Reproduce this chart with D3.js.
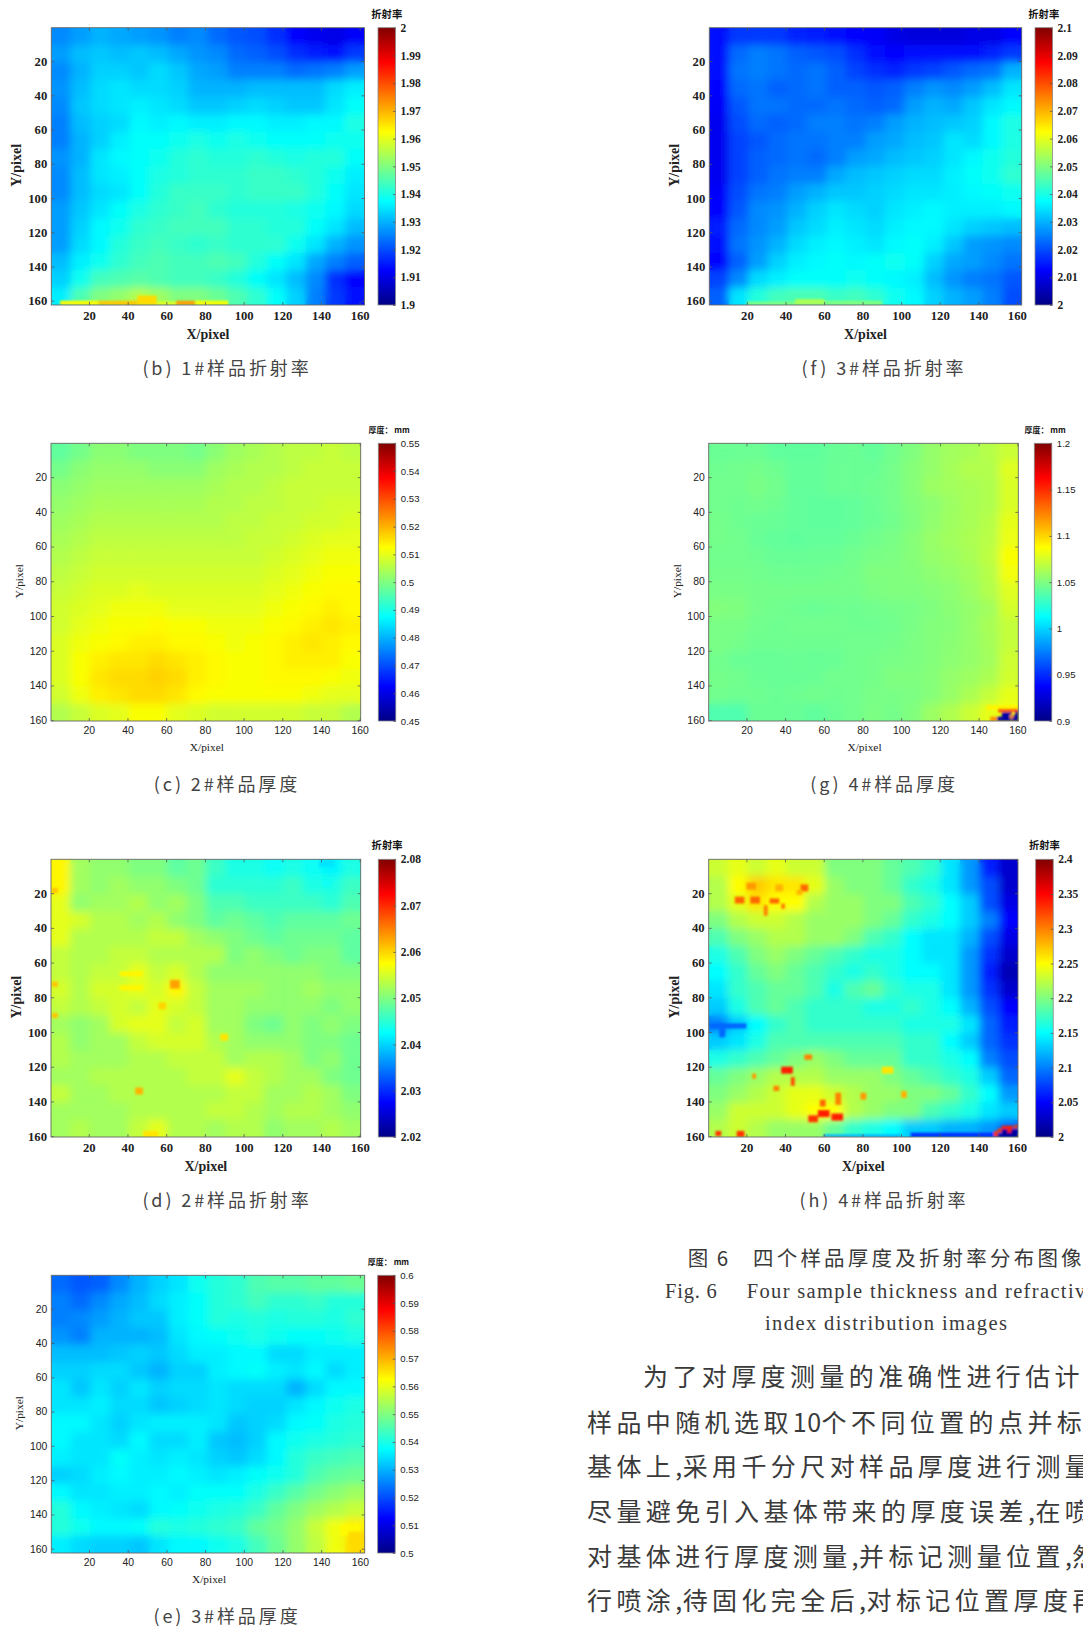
<!DOCTYPE html>
<html>
<head>
    <meta charset="utf-8" />
    <title>Fig. 6 sample thickness and refractive index</title>
    <style>
        html, body { margin: 0; padding: 0; background: #fff; overflow: hidden; }
        svg { display: block; }
    </style>
</head>
<body>
    <div class="canvas"></div>
    <script src="https://d3js.org/d3.v7.min.js"></script>
    <script>
        // values, 16 x 16 blocks of 10 pixels, row 0 at the top
        var xyTicks = [20, 40, 60, 80, 100, 120, 140, 160];

        var bTicks = [1.9, 1.91, 1.92, 1.93, 1.94, 1.95, 1.96, 1.97, 1.98, 1.99, 2];
        var fTicks = [2, 2.01, 2.02, 2.03, 2.04, 2.05, 2.06, 2.07, 2.08, 2.09, 2.1];
        var cTicks = [0.45, 0.46, 0.47, 0.48, 0.49, 0.5, 0.51, 0.52, 0.53, 0.54, 0.55];
        var gTicks = [0.9, 0.95, 1, 1.05, 1.1, 1.15, 1.2];
        var dTicks = [2.02, 2.03, 2.04, 2.05, 2.06, 2.07, 2.08];
        var hTicks = [2, 2.05, 2.1, 2.15, 2.2, 2.25, 2.3, 2.35, 2.4];
        var eTicks = [0.5, 0.51, 0.52, 0.53, 0.54, 0.55, 0.56, 0.57, 0.58, 0.59, 0.6];

        var bValues = [
            [1.926,1.928,1.930,1.929,1.928,1.927,1.925,1.926,1.923,1.921,1.920,1.917,1.913,1.911,1.910,1.912],
            [1.928,1.931,1.932,1.931,1.932,1.931,1.929,1.927,1.926,1.923,1.922,1.920,1.917,1.915,1.914,1.918],
            [1.926,1.930,1.933,1.933,1.932,1.934,1.932,1.929,1.928,1.925,1.925,1.925,1.923,1.924,1.925,1.928],
            [1.927,1.931,1.934,1.935,1.934,1.934,1.933,1.930,1.930,1.930,1.931,1.931,1.931,1.931,1.934,1.936],
            [1.926,1.932,1.934,1.935,1.936,1.935,1.934,1.932,1.932,1.933,1.934,1.933,1.932,1.932,1.935,1.938],
            [1.925,1.931,1.933,1.934,1.937,1.936,1.937,1.936,1.936,1.937,1.937,1.936,1.936,1.937,1.937,1.940],
            [1.925,1.930,1.933,1.936,1.938,1.938,1.939,1.940,1.939,1.940,1.939,1.938,1.938,1.938,1.939,1.939],
            [1.927,1.930,1.935,1.937,1.938,1.939,1.941,1.942,1.941,1.941,1.942,1.941,1.940,1.941,1.941,1.938],
            [1.926,1.931,1.935,1.936,1.938,1.940,1.941,1.942,1.942,1.942,1.943,1.943,1.942,1.941,1.939,1.936],
            [1.926,1.931,1.934,1.935,1.938,1.941,1.943,1.943,1.943,1.942,1.943,1.943,1.943,1.941,1.938,1.935],
            [1.928,1.932,1.935,1.938,1.940,1.942,1.943,1.944,1.942,1.941,1.941,1.941,1.940,1.939,1.937,1.934],
            [1.928,1.933,1.937,1.939,1.942,1.943,1.944,1.944,1.944,1.942,1.942,1.941,1.941,1.938,1.935,1.931],
            [1.928,1.934,1.937,1.941,1.943,1.944,1.943,1.942,1.943,1.942,1.942,1.942,1.939,1.935,1.930,1.927],
            [1.931,1.936,1.939,1.942,1.944,1.945,1.944,1.944,1.945,1.944,1.941,1.938,1.935,1.929,1.925,1.922],
            [1.933,1.939,1.944,1.945,1.946,1.945,1.944,1.944,1.943,1.941,1.938,1.935,1.931,1.926,1.917,1.913],
            [1.936,1.945,1.950,1.952,1.955,1.953,1.950,1.950,1.948,1.945,1.942,1.938,1.933,1.925,1.918,1.914]
        ];
        var fValues = [
            [2.014,2.018,2.018,2.018,2.016,2.015,2.014,2.013,2.012,2.010,2.009,2.009,2.009,2.010,2.010,2.013],
            [2.014,2.023,2.025,2.024,2.022,2.021,2.020,2.017,2.014,2.013,2.014,2.014,2.014,2.014,2.016,2.018],
            [2.014,2.024,2.025,2.024,2.023,2.024,2.022,2.019,2.017,2.016,2.018,2.019,2.021,2.023,2.024,2.030],
            [2.013,2.023,2.024,2.022,2.023,2.024,2.022,2.022,2.021,2.022,2.025,2.027,2.026,2.028,2.031,2.035],
            [2.012,2.021,2.024,2.024,2.023,2.023,2.024,2.023,2.022,2.023,2.028,2.030,2.029,2.032,2.035,2.037],
            [2.011,2.020,2.023,2.022,2.023,2.025,2.025,2.024,2.025,2.028,2.030,2.031,2.032,2.033,2.037,2.040],
            [2.011,2.019,2.021,2.023,2.024,2.024,2.025,2.025,2.028,2.029,2.031,2.032,2.035,2.034,2.037,2.040],
            [2.011,2.019,2.022,2.023,2.024,2.023,2.025,2.028,2.029,2.031,2.032,2.033,2.035,2.037,2.039,2.041],
            [2.011,2.019,2.022,2.024,2.025,2.025,2.029,2.031,2.032,2.033,2.034,2.034,2.036,2.038,2.039,2.042],
            [2.012,2.020,2.024,2.025,2.028,2.030,2.032,2.032,2.033,2.034,2.035,2.035,2.036,2.037,2.038,2.039],
            [2.013,2.021,2.026,2.027,2.030,2.033,2.035,2.034,2.033,2.035,2.036,2.037,2.036,2.036,2.036,2.037],
            [2.015,2.023,2.026,2.028,2.032,2.034,2.036,2.035,2.034,2.036,2.037,2.037,2.035,2.033,2.032,2.031],
            [2.014,2.024,2.027,2.030,2.034,2.036,2.037,2.036,2.035,2.037,2.038,2.036,2.032,2.028,2.027,2.026],
            [2.013,2.022,2.028,2.033,2.036,2.037,2.038,2.037,2.038,2.039,2.038,2.033,2.029,2.028,2.026,2.024],
            [2.019,2.026,2.034,2.036,2.038,2.038,2.038,2.039,2.038,2.037,2.036,2.031,2.027,2.025,2.024,2.021],
            [2.022,2.035,2.041,2.044,2.045,2.045,2.043,2.044,2.042,2.039,2.037,2.033,2.030,2.028,2.025,2.020]
        ];
        var cValues = [
            [.497,.499,.501,.501,.500,.500,.500,.499,.501,.503,.504,.505,.506,.506,.507,.506],
            [.499,.501,.502,.502,.502,.501,.501,.501,.503,.504,.505,.505,.506,.507,.507,.507],
            [.501,.502,.503,.503,.503,.503,.503,.503,.504,.505,.505,.506,.507,.507,.507,.507],
            [.502,.503,.504,.504,.504,.504,.504,.504,.505,.505,.506,.506,.507,.507,.508,.508],
            [.503,.504,.505,.505,.505,.505,.505,.505,.505,.506,.506,.507,.507,.508,.508,.509],
            [.504,.505,.506,.506,.506,.506,.506,.506,.506,.506,.507,.507,.508,.509,.510,.510],
            [.505,.506,.507,.507,.507,.507,.507,.507,.507,.507,.507,.508,.509,.510,.511,.511],
            [.506,.507,.508,.508,.508,.508,.508,.508,.508,.508,.508,.509,.510,.511,.512,.512],
            [.507,.508,.509,.509,.510,.509,.509,.509,.509,.509,.509,.510,.511,.512,.513,.513],
            [.508,.509,.510,.511,.511,.511,.510,.510,.510,.510,.510,.511,.512,.513,.514,.513],
            [.508,.510,.511,.512,.512,.513,.512,.512,.511,.511,.511,.512,.513,.514,.515,.514],
            [.509,.511,.512,.513,.514,.514,.513,.513,.512,.511,.512,.513,.514,.515,.514,.513],
            [.509,.512,.514,.515,.515,.516,.515,.514,.513,.512,.512,.513,.514,.514,.514,.512],
            [.509,.512,.515,.516,.516,.517,.516,.514,.513,.512,.512,.513,.513,.513,.512,.511],
            [.508,.511,.514,.515,.516,.516,.515,.513,.512,.512,.512,.512,.512,.511,.510,.510],
            [.505,.507,.509,.510,.512,.512,.510,.509,.508,.508,.508,.508,.508,.507,.507,.505]
        ];
        var gValues = [
            [1.044,1.044,1.044,1.041,1.041,1.041,1.043,1.044,1.042,1.046,1.050,1.056,1.060,1.062,1.066,1.072],
            [1.045,1.046,1.047,1.045,1.042,1.042,1.044,1.044,1.044,1.047,1.052,1.056,1.061,1.065,1.065,1.078],
            [1.046,1.046,1.048,1.046,1.042,1.042,1.044,1.044,1.045,1.047,1.052,1.058,1.060,1.062,1.064,1.076],
            [1.046,1.045,1.046,1.045,1.042,1.041,1.041,1.042,1.044,1.047,1.051,1.054,1.058,1.062,1.064,1.076],
            [1.047,1.045,1.044,1.043,1.042,1.041,1.041,1.042,1.044,1.046,1.050,1.055,1.059,1.062,1.066,1.080],
            [1.047,1.046,1.043,1.042,1.041,1.042,1.042,1.044,1.046,1.048,1.052,1.057,1.060,1.063,1.067,1.082],
            [1.046,1.046,1.045,1.043,1.043,1.044,1.044,1.046,1.048,1.049,1.052,1.056,1.058,1.062,1.068,1.086],
            [1.047,1.047,1.046,1.045,1.045,1.045,1.046,1.047,1.050,1.050,1.051,1.054,1.056,1.060,1.066,1.084],
            [1.048,1.048,1.047,1.047,1.047,1.047,1.047,1.047,1.049,1.050,1.050,1.052,1.054,1.058,1.065,1.078],
            [1.051,1.050,1.047,1.046,1.045,1.044,1.045,1.045,1.046,1.047,1.048,1.050,1.053,1.056,1.060,1.075],
            [1.048,1.048,1.046,1.045,1.046,1.046,1.046,1.045,1.045,1.046,1.048,1.051,1.052,1.056,1.062,1.070],
            [1.048,1.047,1.045,1.045,1.045,1.045,1.045,1.046,1.046,1.047,1.049,1.051,1.053,1.056,1.061,1.070],
            [1.046,1.044,1.043,1.043,1.044,1.043,1.044,1.046,1.047,1.048,1.049,1.051,1.054,1.056,1.060,1.073],
            [1.047,1.046,1.044,1.043,1.043,1.044,1.046,1.046,1.047,1.050,1.050,1.052,1.056,1.059,1.063,1.074],
            [1.046,1.045,1.045,1.044,1.045,1.046,1.045,1.046,1.048,1.048,1.049,1.052,1.057,1.063,1.070,1.080],
            [1.036,1.036,1.044,1.044,1.043,1.041,1.044,1.046,1.049,1.047,1.050,1.058,1.064,1.072,1.080,1.084]
        ];
        var dValues = [
            [2.058,2.052,2.051,2.051,2.050,2.050,2.048,2.049,2.046,2.044,2.044,2.043,2.044,2.043,2.042,2.044],
            [2.058,2.052,2.051,2.052,2.051,2.051,2.050,2.049,2.045,2.045,2.045,2.045,2.046,2.044,2.044,2.046],
            [2.056,2.051,2.052,2.052,2.053,2.051,2.052,2.050,2.047,2.047,2.046,2.046,2.046,2.046,2.045,2.047],
            [2.056,2.055,2.053,2.053,2.052,2.053,2.051,2.050,2.048,2.049,2.048,2.047,2.048,2.048,2.048,2.049],
            [2.056,2.053,2.053,2.053,2.053,2.054,2.054,2.052,2.051,2.050,2.049,2.048,2.049,2.049,2.049,2.048],
            [2.054,2.053,2.053,2.054,2.054,2.053,2.053,2.053,2.053,2.050,2.051,2.050,2.049,2.050,2.050,2.048],
            [2.054,2.053,2.054,2.054,2.056,2.054,2.055,2.053,2.051,2.051,2.051,2.051,2.051,2.051,2.050,2.050],
            [2.055,2.053,2.055,2.055,2.056,2.055,2.058,2.054,2.052,2.052,2.052,2.051,2.051,2.052,2.051,2.051],
            [2.054,2.053,2.054,2.055,2.054,2.056,2.055,2.054,2.052,2.052,2.051,2.051,2.051,2.051,2.050,2.051],
            [2.052,2.051,2.052,2.055,2.056,2.056,2.054,2.055,2.052,2.052,2.050,2.049,2.051,2.050,2.051,2.050],
            [2.053,2.051,2.052,2.052,2.054,2.055,2.055,2.055,2.053,2.052,2.051,2.051,2.051,2.050,2.050,2.049],
            [2.053,2.052,2.052,2.052,2.053,2.053,2.054,2.054,2.054,2.052,2.053,2.053,2.052,2.050,2.051,2.049],
            [2.052,2.052,2.053,2.053,2.053,2.053,2.053,2.054,2.054,2.056,2.054,2.053,2.052,2.052,2.050,2.049],
            [2.054,2.052,2.052,2.053,2.053,2.053,2.053,2.053,2.053,2.054,2.054,2.052,2.052,2.053,2.052,2.050],
            [2.052,2.052,2.052,2.052,2.053,2.053,2.053,2.053,2.054,2.054,2.053,2.052,2.053,2.053,2.052,2.051],
            [2.052,2.053,2.052,2.052,2.054,2.056,2.053,2.053,2.052,2.053,2.053,2.051,2.052,2.052,2.053,2.052]
        ];
        var hValues = [
            [2.23,2.24,2.23,2.24,2.23,2.23,2.20,2.20,2.20,2.19,2.18,2.17,2.14,2.11,2.06,2.03],
            [2.22,2.25,2.27,2.26,2.26,2.24,2.21,2.20,2.20,2.19,2.17,2.16,2.14,2.11,2.08,2.03],
            [2.22,2.24,2.26,2.25,2.25,2.22,2.21,2.21,2.20,2.20,2.18,2.17,2.15,2.13,2.08,2.04],
            [2.20,2.22,2.23,2.23,2.22,2.21,2.21,2.21,2.20,2.19,2.17,2.16,2.15,2.13,2.10,2.05],
            [2.18,2.20,2.21,2.22,2.22,2.21,2.21,2.20,2.18,2.17,2.15,2.14,2.14,2.12,2.08,2.04],
            [2.16,2.18,2.20,2.21,2.20,2.19,2.18,2.17,2.16,2.16,2.15,2.14,2.14,2.11,2.07,2.03],
            [2.15,2.17,2.19,2.20,2.19,2.18,2.17,2.16,2.17,2.16,2.15,2.15,2.14,2.11,2.06,2.02],
            [2.14,2.17,2.18,2.19,2.19,2.18,2.16,2.18,2.19,2.17,2.16,2.16,2.14,2.11,2.07,2.03],
            [2.13,2.16,2.18,2.19,2.18,2.17,2.17,2.17,2.16,2.16,2.17,2.16,2.15,2.12,2.08,2.05],
            [2.10,2.13,2.15,2.17,2.18,2.17,2.17,2.17,2.17,2.17,2.16,2.16,2.16,2.14,2.09,2.06],
            [2.13,2.14,2.16,2.18,2.18,2.18,2.18,2.18,2.18,2.18,2.17,2.17,2.15,2.13,2.09,2.07],
            [2.16,2.17,2.18,2.19,2.20,2.21,2.20,2.19,2.19,2.19,2.17,2.17,2.16,2.15,2.10,2.08],
            [2.19,2.20,2.21,2.22,2.22,2.22,2.21,2.21,2.21,2.20,2.19,2.18,2.17,2.16,2.13,2.09],
            [2.20,2.21,2.22,2.23,2.24,2.24,2.23,2.22,2.21,2.21,2.20,2.20,2.19,2.17,2.15,2.11],
            [2.21,2.23,2.23,2.23,2.24,2.25,2.25,2.22,2.21,2.20,2.20,2.18,2.17,2.16,2.14,2.13],
            [2.22,2.23,2.22,2.21,2.21,2.21,2.19,2.17,2.16,2.15,2.13,2.13,2.12,2.12,2.11,2.09]
        ];
        var eValues = [
            [.523,.521,.522,.526,.530,.533,.535,.539,.541,.542,.545,.546,.546,.547,.547,.548],
            [.525,.523,.526,.529,.531,.534,.536,.538,.541,.542,.544,.542,.542,.543,.541,.541],
            [.525,.526,.528,.530,.532,.532,.536,.538,.541,.540,.541,.540,.541,.541,.540,.542],
            [.527,.525,.530,.530,.530,.531,.535,.537,.538,.539,.540,.539,.538,.538,.539,.540],
            [.531,.531,.531,.532,.533,.532,.534,.536,.536,.537,.537,.534,.534,.536,.536,.536],
            [.533,.533,.534,.534,.532,.530,.533,.533,.536,.537,.538,.536,.535,.537,.534,.536],
            [.535,.532,.535,.533,.535,.533,.534,.534,.535,.534,.534,.534,.530,.534,.537,.537],
            [.535,.535,.536,.534,.534,.532,.533,.534,.535,.534,.533,.533,.535,.537,.539,.540],
            [.537,.537,.535,.533,.535,.536,.536,.536,.535,.532,.533,.534,.537,.538,.540,.541],
            [.537,.535,.535,.534,.537,.534,.534,.536,.532,.531,.533,.537,.539,.540,.541,.542],
            [.536,.535,.535,.538,.536,.535,.536,.535,.533,.532,.534,.537,.541,.543,.544,.545],
            [.533,.534,.536,.537,.536,.536,.537,.536,.535,.536,.538,.539,.541,.545,.547,.548],
            [.537,.535,.535,.536,.536,.537,.536,.538,.538,.538,.540,.543,.546,.549,.551,.553],
            [.541,.537,.536,.535,.534,.537,.538,.539,.540,.541,.543,.547,.550,.553,.555,.557],
            [.541,.539,.537,.537,.538,.541,.540,.541,.542,.543,.547,.549,.552,.557,.561,.564],
            [.536,.534,.533,.533,.532,.535,.537,.537,.539,.540,.544,.548,.552,.556,.561,.566]
        ];

        // small features the blocks are too big for: x0, x1, y0, y1 in image pixels, then value
        var bSpots = [[5,25,160,162.5,1.963],[25,45,160,162.5,1.968],[45,55,157,162.5,1.966],[55,65,160.5,162.5,1.96],
            [65,75,160,162.5,1.972],[75,92,160,162.5,1.962]];
        var fSpots = [[20,60,160.5,162.5,2.05],[45,60,159,162.5,2.054],[60,90,160,162.5,2.05]];
        var cSpots = [];
        var gSpots = [[144,160.5,151.5,154,1.09],[150,158,153.5,155.5,1.14],[158,160.5,153.5,155,1.16],
            [152,157,155.5,160.5,0.91],[149.5,152,158,160.5,0.91],[157,160.5,157,160.5,0.91],[159,160.5,155,158,0.91],
            [146,149.5,158,160.5,1.12],[156,158,157,159,1.12]];
        var dSpots = [[62,67,70,75,2.063],[44,48,132,136,2.062],[56,60,83,87,2.06],[88,92,101,105,2.059],[139,147,1,5,2.041],
            [141,145,12,16,2.043],[36,48,65,68,2.058],[36,48,73,76,2.058],[1,4,17,20,2.061],[1,4,71,74,2.061],[1,4,89,92,2.061],
            [48,56,157,160.5,2.059]];
        var hSpots = [[14,19,22,26,2.31],[22,27,22,26,2.31],[32,37,23,26,2.31],[20,25,14,18,2.29],[35,39,15,19,2.28],
            [48,52,15,19,2.31],[46,49,18,21,2.28],[29,31,27,33,2.3],[38,40,26,29,2.3],[38,44,120,124,2.34],[43,45,126,131,2.32],
            [34,37,131,134,2.3],[23,25,124,127,2.29],[50,54,113,116,2.3],[52,57,148,152,2.33],[57,63,145,149,2.34],
            [64,70,147,151,2.34],[66,69,135,142,2.3],[58,61,139,143,2.31],[15,19,157,160.5,2.33],[4,7,157,160,2.33],
            [79,82,135,139,2.29],[100,103,134,138,2.28],[90,96,120,124,2.26],
            [60,100,159,160.5,2.12],[105,149,158,160.5,2.07],
            [152,160.5,156,160.5,2.01],[149,152,158.5,160.5,2.01],[148,150,157,160.5,2.33],[150,152,155.5,158,2.33],
            [152,158,154,156,2.34],[158.5,160.5,153.5,155.5,2.33],[155,157,156,158,2.34],
            [1,20,95,98,2.09],[6,9,98,103,2.09]];
        var eSpots = [[150,160,146,152,.563],[154,162.5,150,158,.566]];

        var captions = ["(b) 1#样品折射率", "(f) 3#样品折射率", "(c) 2#样品厚度", "(g) 4#样品厚度",
                        "(d) 2#样品折射率", "(h) 4#样品折射率", "(e) 3#样品厚度"];
        var bodyLines = ["为了对厚度测量的准确性进行估计", "样品中随机选取10个不同位置的点并标记", "基体上,采用千分尺对样品厚度进行测量",
                         "尽量避免引入基体带来的厚度误差,在喷涂", "对基体进行厚度测量,并标记测量位置,然", "行喷涂,待固化完全后,对标记位置厚度再"];

        var serif = "'Liberation Serif', serif";
        var sans = "'Liberation Sans', sans-serif";
        var cjk = "'Noto Sans CJK SC', sans-serif";

        var jet = d3.scaleLinear()
            .domain([0, 0.125, 0.375, 0.625, 0.875, 1])
            .range(["#000084", "#0000ff", "#00ffff", "#ffff00", "#ff0000", "#800000"])
            .clamp(true);

        var svg = d3.select(".canvas").append("svg").attr("width", 1083).attr("height", 1627);
        var defs = svg.append("defs");

        defs.append("filter").attr("id", "soften")
            .attr("x", "-10%").attr("y", "-10%").attr("width", "120%").attr("height", "120%")
            .append("feGaussianBlur").attr("stdDeviation", 4);
        defs.append("filter").attr("id", "softenSpot")
            .attr("x", "-10%").attr("y", "-10%").attr("width", "120%").attr("height", "120%")
            .append("feGaussianBlur").attr("stdDeviation", 0.9);

        var jetGrad = defs.append("linearGradient").attr("id", "jetGrad")
            .attr("x1", 0).attr("x2", 0).attr("y1", 1).attr("y2", 0);
        jetGrad.selectAll("stop").data(d3.range(0, 1.001, 0.025)).join("stop")
            .attr("offset", function(d) { return d; })
            .attr("stop-color", function(d) { return jet(d); });

        function drawPanel(id, values, spots, ticks, cbTitle, caption, bold, left, right, top, bottom, cbLeft, xMax, capX) {
            var tickFont = bold ? serif : sans;
            var tickSize = bold ? 12.7 : 10.4;
            var cbSize = bold ? 11.5 : 9.6;

            var x = d3.scaleLinear().domain([0.5, xMax]).range([left, right]);
            var y = d3.scaleLinear().domain([0.5, xMax]).range([top, bottom]);
            var col = d3.scaleBand().domain(d3.range(16)).range([left, right]);
            var row = d3.scaleBand().domain(d3.range(16)).range([top, bottom]);
            var val = d3.scaleLinear().domain([ticks[0], ticks[ticks.length - 1]]).range([0, 1]);
            var cbY = d3.scaleLinear().domain(val.domain()).range([bottom, top]);

            var g = svg.append("g").attr("class", "panel-" + id);
            defs.append("clipPath").attr("id", "clip-" + id)
                .append("rect").attr("x", left).attr("y", top).attr("width", right - left).attr("height", bottom - top);

            var image = g.append("g").attr("clip-path", "url(#clip-" + id + ")");

            function addCells(parent) {
                parent.selectAll("g").data(values).join("g")
                    .attr("transform", function(d, i) { return "translate(0," + row(i) + ")"; })
                    .selectAll("rect").data(function(d) { return d; }).join("rect")
                    .attr("x", function(d, i) { return col(i); })
                    .attr("width", col.bandwidth() + 0.5)
                    .attr("height", row.bandwidth() + 0.5)
                    .attr("fill", function(d) { return jet(val(d)); });
            }
            // flat copy underneath so the blur does not fade out at the frame
            addCells(image.append("g"));
            addCells(image.append("g").attr("filter", "url(#soften)"));

            image.append("g").attr("filter", "url(#softenSpot)")
                .selectAll("rect").data(spots).join("rect")
                .attr("x", function(d) { return x(d[0]); })
                .attr("width", function(d) { return x(d[1]) - x(d[0]); })
                .attr("y", function(d) { return y(d[2]); })
                .attr("height", function(d) { return y(d[3]) - y(d[2]); })
                .attr("fill", function(d) { return jet(val(d[4])); });

            // matlab style inward ticks on all four sides
            function styleAxis(a, size, font, col) {
                a.selectAll("text").attr("font-family", font).attr("font-size", size)
                    .attr("font-weight", bold ? "bold" : "normal").attr("fill", col || "#222");
                a.selectAll("line").attr("stroke", "#555").attr("stroke-width", 0.8);
                a.select(".domain").remove();
            }
            var fmt = function(d) { return String(d); };
            styleAxis(g.append("g").attr("transform", "translate(0," + bottom + ")")
                .call(d3.axisBottom(x).tickValues(xyTicks).tickSize(-3).tickPadding(6).tickFormat(fmt)), tickSize, tickFont);
            styleAxis(g.append("g").attr("transform", "translate(" + left + ",0)")
                .call(d3.axisLeft(y).tickValues(xyTicks).tickSize(-3).tickPadding(4).tickFormat(fmt)), tickSize, tickFont);
            styleAxis(g.append("g").attr("transform", "translate(0," + top + ")")
                .call(d3.axisTop(x).tickValues(xyTicks).tickSize(-3).tickFormat("")), tickSize, tickFont);
            styleAxis(g.append("g").attr("transform", "translate(" + right + ",0)")
                .call(d3.axisRight(y).tickValues(xyTicks).tickSize(-3).tickFormat("")), tickSize, tickFont);

            g.append("rect").attr("x", left).attr("y", top)
                .attr("width", right - left).attr("height", bottom - top)
                .attr("fill", "none").attr("stroke", "#666").attr("stroke-width", 0.9);

            g.append("text").attr("x", (left + right) / 2 + (bold ? 0 : 1)).attr("y", bottom + (bold ? 33.5 : 30))
                .attr("text-anchor", "middle").attr("font-family", serif)
                .attr("font-size", bold ? 14 : 11.4).attr("font-weight", bold ? "bold" : "normal")
                .attr("fill", "#222").text("X/pixel");
            g.append("text")
                .attr("transform", "translate(" + (left - (bold ? 30 : 28)) + "," + (top + (bottom - top) / 2 - 1) + ") rotate(-90)")
                .attr("text-anchor", "middle").attr("font-family", serif)
                .attr("font-size", bold ? 14 : 11.4).attr("font-weight", bold ? "bold" : "normal")
                .attr("fill", "#222").text("Y/pixel");

            // colour bar
            var cbWidth = 17.5;
            g.append("rect").attr("x", cbLeft).attr("y", top)
                .attr("width", cbWidth).attr("height", bottom - top)
                .attr("fill", "url(#jetGrad)").attr("stroke", "#888").attr("stroke-width", 0.8);
            styleAxis(g.append("g").attr("transform", "translate(" + (cbLeft + cbWidth) + ",0)")
                .call(d3.axisRight(cbY).tickValues(ticks).tickSize(-2.5).tickPadding(5).tickFormat(fmt)), cbSize, tickFont);

            var isThick = cbTitle.indexOf("mm") >= 0;
            g.append("text").attr("x", cbLeft + cbWidth / 2 + (isThick ? 2 : 0)).attr("y", top - (isThick ? 10.5 : 10))
                .attr("text-anchor", "middle").attr("font-family", cjk)
                .attr("font-size", isThick ? 8 : 10.3).attr("font-weight", "bold")
                .attr("fill", "#111").text(cbTitle);

            // caption under the plot
            svg.append("text").attr("x", capX).attr("y", bottom + (id == "b" || id == "f" ? 69.5 : 70))
                .attr("text-anchor", "middle").attr("font-family", cjk)
                .attr("font-size", 18).attr("letter-spacing", 2.9).attr("fill", "#444").text(caption);
        }

        var cbRefr = "折射率";
        var cbThick = "厚度： mm";
        drawPanel("b", bValues, bSpots, bTicks, cbRefr, captions[0], true, 51.3, 364.5, 27.7, 305, 378, 162.5, 227);
        drawPanel("f", fValues, fSpots, fTicks, cbRefr, captions[1], true, 709.3, 1021.7, 27.7, 305, 1035, 162.5, 884);
        drawPanel("c", cValues, cSpots, cTicks, cbThick, captions[2], false, 51, 360.7, 443.3, 721, 378.3, 160.5, 227);
        drawPanel("g", gValues, gSpots, gTicks, cbThick, captions[3], false, 708.7, 1018.3, 443.3, 721, 1034.3, 160.5, 884);
        drawPanel("d", dValues, dSpots, dTicks, cbRefr, captions[4], true, 51, 360.7, 859.3, 1137, 378.3, 160.5, 227);
        drawPanel("h", hValues, hSpots, hTicks, cbRefr, captions[5], true, 708.7, 1018, 859.3, 1137, 1035.7, 160.5, 884);
        drawPanel("e", eValues, eSpots, eTicks, cbThick, captions[6], false, 51.3, 364.7, 1275.3, 1553, 377.7, 162.5, 227);

        // figure caption, runs off the right edge of the page
        function pageText(str, px, py, font, size, spacing) {
            var t = svg.append("text").attr("x", px).attr("y", py).attr("font-family", font)
                .attr("font-size", size).attr("fill", "#3a3a3a");
            // digits and commas sit tighter than the square characters
            str.split(/([0-9,]+)/).filter(function(s) { return s.length; }).forEach(function(s) {
                t.append("tspan").attr("letter-spacing", /^[0-9,]+$/.test(s) && font == cjk ? 0.5 : spacing).text(s);
            });
        }
        pageText("图 6", 687.7, 1266, cjk, 20.5, 2);
        pageText("四个样品厚度及折射率分布图像", 753, 1266, cjk, 20.5, 3.2);
        pageText("Fig. 6", 665, 1298, serif, 20.5, 0.8);
        pageText("Four sample thickness and refractive", 746.7, 1298, serif, 20.5, 1.35);
        pageText("index distribution images", 765, 1330, serif, 20.5, 1.4);

        var bodyX = [643, 587, 587, 587, 587, 587];
        var bodyY = [1386, 1432, 1476, 1521, 1566, 1610];
        bodyLines.forEach(function(line, i) {
            pageText(line, bodyX[i], bodyY[i], cjk, 25, 4.4);
        });
    </script>
</body>
</html>
